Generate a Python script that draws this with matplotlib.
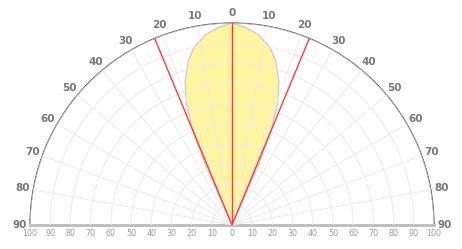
import numpy as np
import matplotlib.pyplot as plt

# light distribution curve (one half, mirrored)
angles_deg = [0, 4, 8, 12, 15, 18, 20, 21, 22, 23, 24, 24.5]
intensity = [100, 98, 95, 90, 84, 75, 67, 61, 53, 44, 30, 0]
beam_lines_deg = [-22.5, 0, 22.5]

theta_ticks = list(range(-90, 91, 10))
theta_labels = [str(abs(t)) for t in theta_ticks]
r_ticks = list(range(0, 101, 10))

fig = plt.figure(figsize=(4.62, 2.49), dpi=100)
# half-disc sits in a square box: origin 1/4 up from the box bottom
R = 202
cx, cy = 232, 24
ax = fig.add_axes([(cx - R) / 462, (cy - R / 2) / 249, 2 * R / 462, 2 * R / 249],
                  projection='polar')
ax.set_theta_zero_location('N')
ax.set_theta_direction(-1)
ax.set_thetamin(-90)
ax.set_thetamax(90)
ax.set_ylim(0, 100)

# full lobe: mirror the half curve
a = np.array(angles_deg)
r = np.array(intensity)
th = np.concatenate([-a[::-1], a[1:]])
rr = np.concatenate([r[::-1], r[1:]])
ax.fill(np.deg2rad(th), rr, facecolor='#fff5a0', edgecolor='#cccccc', lw=1, zorder=1)

for b in beam_lines_deg:
    ax.plot([np.deg2rad(b), np.deg2rad(b)], [0, 100], color='#ff3b3b', lw=1, zorder=3)

ax.set_axisbelow(False)
ax.set_thetagrids(theta_ticks, theta_labels)
ax.set_rgrids(r_ticks[1:], labels=[''] * 10)
ax.grid(True, color='#ececec', lw=0.7, zorder=2)
# highlight 50 circle
gl = ax.yaxis.get_gridlines()
gl[4].set_color('#d0d0d0')
gl[4].set_linewidth(0.9)

ax.tick_params(axis='x', pad=-3, labelsize=7.5, labelcolor='#777777')
for lab in ax.get_xticklabels():
    lab.set_fontweight('bold')

ax.spines['polar'].set_color('#444444')
ax.spines['polar'].set_linewidth(0.8)
for s in ['start', 'end']:
    ax.spines[s].set_color('#bbbbbb')
    ax.spines[s].set_linewidth(2)

# radial labels along the baseline
for v in r_ticks:
    for side in ([0] if v == 0 else [-90, 90]):
        ax.annotate(str(v), (np.deg2rad(side), v), xytext=(0, -3),
                    textcoords='offset points', ha='center', va='top',
                    fontsize=5.8, color='#999999', annotation_clip=False)

fig.savefig('out.png', dpi=100)
